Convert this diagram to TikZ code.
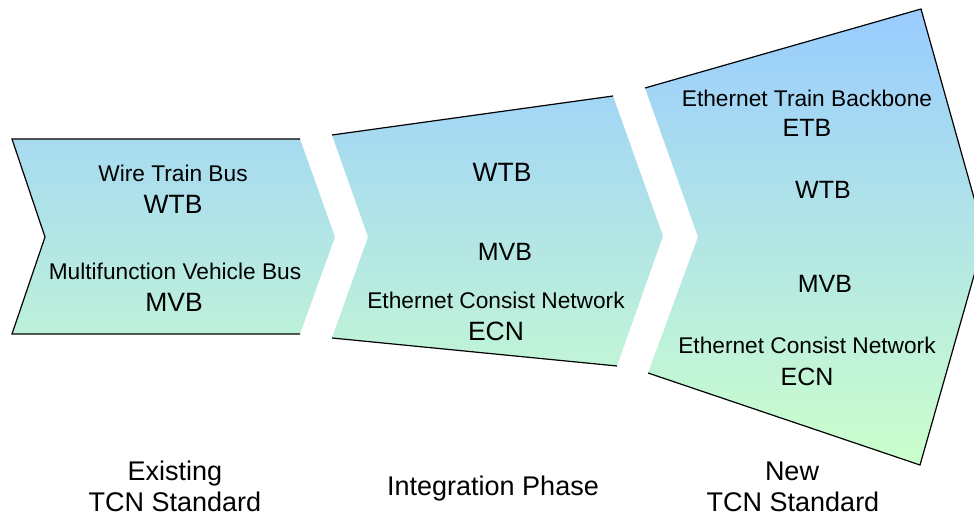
\documentclass[tikz,border=0pt]{standalone}
\usepackage{fontspec}
\setmainfont{Liberation Sans}
\usepackage{xcolor}
\definecolor{tcnblue}{RGB}{153,204,255}
\definecolor{tcngreen}{RGB}{204,255,204}
\begin{document}
\begin{tikzpicture}[x=1pt,y=-1pt,
		small/.style={anchor=base,inner sep=0pt,font=\fontsize{22.7}{26}\selectfont},
		acro/.style={anchor=base,inner sep=0pt,font=\fontsize{26.5}{30}\selectfont},
		acrosm/.style={anchor=base,inner sep=0pt,font=\fontsize{25}{30}\selectfont},
		phase/.style={anchor=base,inner sep=0pt,font=\fontsize{27}{32}\selectfont},
		rim/.style={line width=1.2pt,line join=miter}]
		\useasboundingbox (0,0) rectangle (974,518);
		% existing standard
		\coordinate (E1) at (12,139);
		\coordinate (E2) at (300,139);
		\coordinate (E3) at (335,237);
		\coordinate (E4) at (300,334);
		\coordinate (E5) at (12,334);
		\coordinate (E6) at (45,237);
		% integration phase
		\coordinate (I1) at (332,135);
		\coordinate (I2) at (613,96);
		\coordinate (I3) at (663,236);
		\coordinate (I4) at (617,366);
		\coordinate (I5) at (332,338);
		\coordinate (I6) at (368,237);
		% new standard
		\coordinate (N1) at (645,88);
		\coordinate (N2) at (921,9);
		\coordinate (N3) at (985,237);
		\coordinate (N4) at (920,465);
		\coordinate (N5) at (648,373);
		\coordinate (N6) at (698,237);
		%
		\begin{scope}
		\clip (E1)--(E2)--(E3)--(E4)--(E5)--(E6)--cycle
		(I1)--(I2)--(I3)--(I4)--(I5)--(I6)--cycle
		(N1)--(N2)--(N3)--(N4)--(N5)--(N6)--cycle;
		\shade[top color=tcnblue,bottom color=tcngreen] (0,9) rectangle (974,465);
		\end{scope}
		%
		\draw[rim] (E2)--(E1)--(E6)--(E5)--(E4);
		\draw[rim] (I1)--(I2);
		\draw[rim] (I5)--(I4);
		\draw[rim] (N1)--(N2)--(N3)--(N4)--(N5);
		%
		\node[small] (wtbname) at (173,182) {Wire Train Bus};
		\node[acro] (wtbE) at (173,214) {WTB};
		\node[small] (mvbname) at (175,280) {Multifunction Vehicle Bus};
		\node[acro] (mvbE) at (174,312) {MVB};
		%
		\node[acro] (wtbI) at (502,182) {WTB};
		\node[acrosm] (mvbI) at (505,261) {MVB};
		\node[small] (ecnnameI) at (496,309) {Ethernet Consist Network};
		\node[acro] (ecnI) at (496,341) {ECN};
		%
		\node[small] (etbname) at (807,107) {Ethernet Train Backbone};
		\node[acrosm] (etbN) at (807,137) {ETB};
		\node[acrosm] (wtbN) at (823,199) {WTB};
		\node[acrosm] (mvbN) at (825,293) {MVB};
		\node[small] (ecnnameN) at (807,353) {Ethernet Consist Network};
		\node[acrosm] (ecnN) at (807,385) {ECN};
		%
		\node[phase] (existing) at (175,480) {Existing};
		\node[phase] (tcnE) at (175,511) {TCN Standard};
		\node[phase] (integ) at (493,495) {Integration Phase};
		\node[phase] (new) at (792,480) {New};
		\node[phase] (tcnN) at (793,511) {TCN Standard};
\end{tikzpicture}
\end{document}
